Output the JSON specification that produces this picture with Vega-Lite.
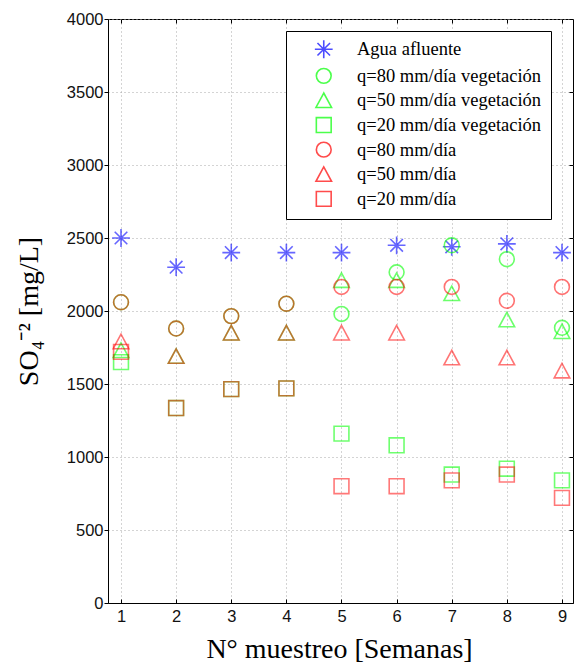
{
  "$schema": "https://vega.github.io/schema/vega-lite/v6.json",
  "width": 465,
  "height": 584,
  "autosize": {"type": "none"},
  "padding": {"left": 108, "top": 19, "right": 1, "bottom": 62},
  "background": "white",
  "config": {
    "view": {"stroke": "black", "strokeWidth": 1},
    "axis": {
      "domainColor": "black",
      "tickColor": "black",
      "gridColor": "#a8a8a8",
      "gridDash": [1, 3],
      "gridWidth": 1,
      "labelFont": "Liberation Sans",
      "labelFontSize": 16.5,
      "labelColor": "#111111",
      "titleFont": "Liberation Serif",
      "titleFontSize": 28,
      "titleFontWeight": "normal",
      "titleColor": "black"
    }
  },
  "data": {
    "values": [
      {"n": 1, "serie": "Agua afluente", "v": 2500},
      {"n": 2, "serie": "Agua afluente", "v": 2300},
      {"n": 3, "serie": "Agua afluente", "v": 2400},
      {"n": 4, "serie": "Agua afluente", "v": 2400},
      {"n": 5, "serie": "Agua afluente", "v": 2400},
      {"n": 6, "serie": "Agua afluente", "v": 2450},
      {"n": 7, "serie": "Agua afluente", "v": 2440},
      {"n": 8, "serie": "Agua afluente", "v": 2460},
      {"n": 9, "serie": "Agua afluente", "v": 2400},
      {"n": 1, "serie": "q=80 mm/día vegetación", "v": 2060},
      {"n": 2, "serie": "q=80 mm/día vegetación", "v": 1880},
      {"n": 3, "serie": "q=80 mm/día vegetación", "v": 1965},
      {"n": 4, "serie": "q=80 mm/día vegetación", "v": 2050},
      {"n": 5, "serie": "q=80 mm/día vegetación", "v": 1980},
      {"n": 6, "serie": "q=80 mm/día vegetación", "v": 2265},
      {"n": 7, "serie": "q=80 mm/día vegetación", "v": 2450},
      {"n": 8, "serie": "q=80 mm/día vegetación", "v": 2355},
      {"n": 9, "serie": "q=80 mm/día vegetación", "v": 1885},
      {"n": 1, "serie": "q=50 mm/día vegetación", "v": 1730},
      {"n": 2, "serie": "q=50 mm/día vegetación", "v": 1690},
      {"n": 3, "serie": "q=50 mm/día vegetación", "v": 1850},
      {"n": 4, "serie": "q=50 mm/día vegetación", "v": 1850},
      {"n": 5, "serie": "q=50 mm/día vegetación", "v": 2210},
      {"n": 6, "serie": "q=50 mm/día vegetación", "v": 2210},
      {"n": 7, "serie": "q=50 mm/día vegetación", "v": 2120},
      {"n": 8, "serie": "q=50 mm/día vegetación", "v": 1940},
      {"n": 9, "serie": "q=50 mm/día vegetación", "v": 1860},
      {"n": 1, "serie": "q=20 mm/día vegetación", "v": 1650},
      {"n": 2, "serie": "q=20 mm/día vegetación", "v": 1335},
      {"n": 3, "serie": "q=20 mm/día vegetación", "v": 1465},
      {"n": 4, "serie": "q=20 mm/día vegetación", "v": 1470},
      {"n": 5, "serie": "q=20 mm/día vegetación", "v": 1160},
      {"n": 6, "serie": "q=20 mm/día vegetación", "v": 1080},
      {"n": 7, "serie": "q=20 mm/día vegetación", "v": 880},
      {"n": 8, "serie": "q=20 mm/día vegetación", "v": 920},
      {"n": 9, "serie": "q=20 mm/día vegetación", "v": 840},
      {"n": 1, "serie": "q=80 mm/día", "v": 2060},
      {"n": 2, "serie": "q=80 mm/día", "v": 1880},
      {"n": 3, "serie": "q=80 mm/día", "v": 1965},
      {"n": 4, "serie": "q=80 mm/día", "v": 2050},
      {"n": 5, "serie": "q=80 mm/día", "v": 2165},
      {"n": 6, "serie": "q=80 mm/día", "v": 2165},
      {"n": 7, "serie": "q=80 mm/día", "v": 2165},
      {"n": 8, "serie": "q=80 mm/día", "v": 2070},
      {"n": 9, "serie": "q=80 mm/día", "v": 2165},
      {"n": 1, "serie": "q=50 mm/día", "v": 1790},
      {"n": 2, "serie": "q=50 mm/día", "v": 1690},
      {"n": 3, "serie": "q=50 mm/día", "v": 1850},
      {"n": 4, "serie": "q=50 mm/día", "v": 1850},
      {"n": 5, "serie": "q=50 mm/día", "v": 1850},
      {"n": 6, "serie": "q=50 mm/día", "v": 1850},
      {"n": 7, "serie": "q=50 mm/día", "v": 1680},
      {"n": 8, "serie": "q=50 mm/día", "v": 1680},
      {"n": 9, "serie": "q=50 mm/día", "v": 1590},
      {"n": 1, "serie": "q=20 mm/día", "v": 1720},
      {"n": 2, "serie": "q=20 mm/día", "v": 1335},
      {"n": 3, "serie": "q=20 mm/día", "v": 1465},
      {"n": 4, "serie": "q=20 mm/día", "v": 1470},
      {"n": 5, "serie": "q=20 mm/día", "v": 800},
      {"n": 6, "serie": "q=20 mm/día", "v": 800},
      {"n": 7, "serie": "q=20 mm/día", "v": 840},
      {"n": 8, "serie": "q=20 mm/día", "v": 880},
      {"n": 9, "serie": "q=20 mm/día", "v": 720}
    ]
  },
  "layer": [
    {
      "mark": {"type": "point", "filled": false, "strokeWidth": 1.6, "size": 220},
      "encoding": {
        "x": {
          "field": "n", "type": "quantitative",
          "scale": {"domain": [0.764, 9.2], "nice": false, "zero": false},
          "axis": {
            "orient": "bottom",
            "values": [1, 2, 3, 4, 5, 6, 7, 8, 9],
            "format": "d",
            "tickSize": -4,
            "labelPadding": 9,
            "grid": true,
            "title": "N° muestreo [Semanas]",
            "titleFont": "Liberation Serif",
            "titleFontSize": 28,
            "titleX": 231,
            "titleY": 54,
            "titleBaseline": "alphabetic",
            "titleAlign": "center"
          }
        },
        "y": {
          "field": "v", "type": "quantitative",
          "scale": {"domain": [0, 4000], "nice": false},
          "axis": {
            "orient": "left",
            "values": [0, 500, 1000, 1500, 2000, 2500, 3000, 3500, 4000],
            "format": "d",
            "tickSize": 4,
            "labelPadding": 1,
            "grid": true,
            "title": "SO₄⁻² [mg/L]",
            "titleFont": "Liberation Serif",
            "titleFontSize": 28,
            "titleX": -71,
            "titleY": 292,
            "titleAngle": -90,
            "titleBaseline": "alphabetic",
            "titleAlign": "center"
          }
        },
        "color": {
          "field": "serie", "type": "nominal",
          "scale": {
            "domain": ["Agua afluente", "q=80 mm/día vegetación", "q=50 mm/día vegetación", "q=20 mm/día vegetación", "q=80 mm/día", "q=50 mm/día", "q=20 mm/día"],
            "range": ["#0000ff", "#00ff00", "#00ff00", "#00ff00", "#ff0000", "#ff0000", "#ff0000"]
          },
          "legend": {
            "title": null,
            "orient": "none",
            "legendX": 178,
            "legendY": 12,
            "strokeColor": "black",
            "fillColor": "white",
            "padding": 9,
            "rowPadding": 2.6,
            "labelFont": "Liberation Serif",
            "labelFontSize": 18.5,
            "labelColor": "black",
            "labelLimit": 400,
            "labelOffset": 24,
            "symbolOffset": 19.5,
            "symbolSize": 220,
            "symbolStrokeWidth": 1.6,
            "symbolFillColor": "transparent"
          }
        },
        "shape": {
          "field": "serie", "type": "nominal",
          "scale": {
            "domain": ["Agua afluente", "q=80 mm/día vegetación", "q=50 mm/día vegetación", "q=20 mm/día vegetación", "q=80 mm/día", "q=50 mm/día", "q=20 mm/día"],
            "range": ["M-1.2,0L1.2,0M0,-1.2L0,1.2M-0.85,-0.85L0.85,0.85M-0.85,0.85L0.85,-0.85", "circle", "M0,-1L-1.05,0.95L1.05,0.95Z", "square", "circle", "M0,-1L-1.05,0.95L1.05,0.95Z", "square"]
          },
          "legend": {
            "title": null,
            "orient": "none",
            "legendX": 178,
            "legendY": 12,
            "strokeColor": "black",
            "fillColor": "white",
            "padding": 9,
            "rowPadding": 2.6,
            "labelFont": "Liberation Serif",
            "labelFontSize": 18.5,
            "labelColor": "black",
            "labelLimit": 400,
            "labelOffset": 24,
            "symbolOffset": 19.5,
            "symbolSize": 220,
            "symbolStrokeWidth": 1.6,
            "symbolFillColor": "transparent"
          }
        },
        "strokeOpacity": {
          "field": "serie", "type": "nominal",
          "scale": {
            "domain": ["Agua afluente", "q=80 mm/día vegetación", "q=50 mm/día vegetación", "q=20 mm/día vegetación", "q=80 mm/día", "q=50 mm/día", "q=20 mm/día"],
            "range": [0.85, 0.75, 0.75, 0.75, 0.72, 0.72, 0.72]
          },
          "legend": null
        }
      }
    },
    {
      "mark": {"type": "point", "opacity": 0},
      "encoding": {
        "x": {
          "field": "n", "type": "quantitative",
          "scale": {"domain": [0.764, 9.2], "nice": false, "zero": false},
          "axis": {"orient": "top", "values": [1, 2, 3, 4, 5, 6, 7, 8, 9], "tickSize": -4, "labels": false, "domain": false, "grid": false, "title": null}
        },
        "y": {
          "field": "v", "type": "quantitative",
          "scale": {"domain": [0, 4000], "nice": false},
          "axis": {"orient": "right", "values": [0, 500, 1000, 1500, 2000, 2500, 3000, 3500, 4000], "tickSize": -4, "labels": false, "domain": false, "grid": false, "title": null}
        }
      }
    }
  ],
  "resolve": {"axis": {"x": "independent", "y": "independent"}}
}
